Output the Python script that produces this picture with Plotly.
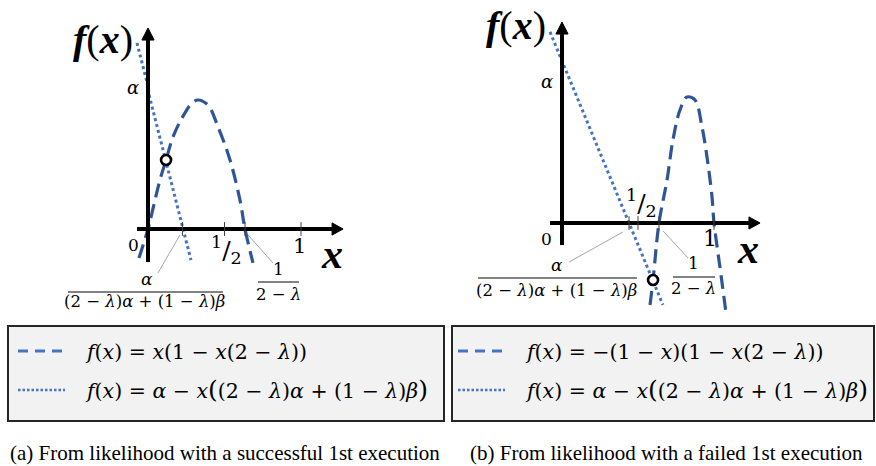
import plotly.graph_objects as go

W, H = 876, 466
SERIF = "Liberation Serif"
MATH = "DejaVu Serif"
DARK_BLUE = "#2f5597"
MID_BLUE = "#4472c4"

# ---------------- panel (a): successful 1st execution ----------------
a_quad_x = [-0.059, 0.0, 0.026, 0.078, 0.118, 0.163, 0.222, 0.288, 0.327,
            0.392, 0.458, 0.536, 0.601, 0.634, 0.686]
a_quad_y = [-0.190, 0.0, 0.105, 0.320, 0.451, 0.601, 0.725, 0.824, 0.843,
            0.810, 0.667, 0.451, 0.190, 0.0, -0.222]
a_line_x = [-0.072, -0.007, None, 0.007, 0.281]
a_line_y = [1.216, 0.961, None, 0.876, -0.203]
a_cross_x = [0.118]
a_cross_y = [0.451]
a_ticks = [0.225, 0.5, 0.634, 1.0]   # α/((2-λ)α+(1-λ)β), 1/2, 1/(2-λ), 1

# ---------------- panel (b): failed 1st execution ----------------
b_quad_x = [0.579, 0.599, 0.638, 0.691, 0.730, 0.776, 0.822, 0.875, 0.921,
            0.954, 0.987, 1.0, 1.039, 1.079]
b_quad_y = [-0.539, -0.375, 0.0, 0.283, 0.546, 0.743, 0.829, 0.809, 0.632,
            0.434, 0.171, 0.0, -0.289, -0.592]
b_line_x = [-0.079, 0.664]
b_line_y = [1.257, -0.539]
b_cross_x = [0.599]
b_cross_y = [-0.375]
b_ticks = [0.441, 0.5, 0.638, 1.0]

BIGL = "<span style='font-size:25px'>(</span>"
BIGR = "<span style='font-size:25px'>)</span>"
legend_a = ["<i>f</i>(<i>x</i>) = <i>x</i>(1 − <i>x</i>(2 − <i>λ</i>))",
            "<i>f</i>(<i>x</i>) = <i>α</i> − <i>x</i>" + BIGL + "(2 − <i>λ</i>)<i>α</i> + (1 − <i>λ</i>)<i>β</i>" + BIGR]
legend_b = ["<i>f</i>(<i>x</i>) = −(1 − <i>x</i>)(1 − <i>x</i>(2 − <i>λ</i>))",
            "<i>f</i>(<i>x</i>) = <i>α</i> − <i>x</i>" + BIGL + "(2 − <i>λ</i>)<i>α</i> + (1 − <i>λ</i>)<i>β</i>" + BIGR]
captions = ["(a) From likelihood with a successful 1st execution",
            "(b) From likelihood with a failed 1st execution"]

# subplot geometry (pixel frame of each panel, origin and unit length)
PLOT_TOP, PLOT_BOTTOM = 0, 320
panels = {
    "a": dict(x0=0, x1=440, ox=148, oy=229, unit=153),
    "b": dict(x0=444, x1=876, ox=562, oy=223, unit=152),
}


def ranges(p):
    xr = [(p["x0"] - p["ox"]) / p["unit"], (p["x1"] - p["ox"]) / p["unit"]]
    yr = [(p["oy"] - PLOT_BOTTOM) / p["unit"], (p["oy"] - PLOT_TOP) / p["unit"]]
    return xr, yr


fig = go.Figure()

for xs, ys, ax in [(a_quad_x, a_quad_y, "a"), (b_quad_x, b_quad_y, "b")]:
    fig.add_trace(go.Scatter(
        x=xs, y=ys, mode="lines", line=dict(color=DARK_BLUE, width=3.2, dash="14px,7px",
                                            shape="spline", smoothing=1.0),
        xaxis="x" if ax == "a" else "x2", yaxis="y" if ax == "a" else "y2",
        showlegend=False, hoverinfo="skip"))
for xs, ys, ax in [(a_line_x, a_line_y, "a"), (b_line_x, b_line_y, "b")]:
    fig.add_trace(go.Scatter(
        x=xs, y=ys, mode="lines", line=dict(color=MID_BLUE, width=3, dash="3px,3px"),
        connectgaps=False,
        xaxis="x" if ax == "a" else "x2", yaxis="y" if ax == "a" else "y2",
        showlegend=False, hoverinfo="skip"))
for xs, ys, ax in [(a_cross_x, a_cross_y, "a"), (b_cross_x, b_cross_y, "b")]:
    fig.add_trace(go.Scatter(
        x=xs, y=ys, mode="markers",
        marker=dict(symbol="circle", size=10, color="white", line=dict(color="black", width=2.6)),
        xaxis="x" if ax == "a" else "x2", yaxis="y" if ax == "a" else "y2",
        showlegend=False, hoverinfo="skip"))

shapes = []
annotations = []


def axes_arrows(xr, yr, x_lo, x_base, x_tip, y_lo, y_base, y_tip, hw):
    shapes.append(dict(type="line", xref=xr, yref=yr, x0=x_lo, x1=x_base, y0=0, y1=0,
                       line=dict(color="black", width=4)))
    shapes.append(dict(type="path", xref=xr, yref=yr,
                       path=f"M {x_tip} 0 L {x_base} {hw} L {x_base} {-hw} Z",
                       fillcolor="black", line=dict(color="black", width=1)))
    shapes.append(dict(type="line", xref=xr, yref=yr, x0=0, x1=0, y0=y_lo, y1=y_base,
                       line=dict(color="black", width=4)))
    shapes.append(dict(type="path", xref=xr, yref=yr,
                       path=f"M 0 {y_tip} L {hw} {y_base} L {-hw} {y_base} Z",
                       fillcolor="black", line=dict(color="black", width=1)))


axes_arrows("x", "y", -0.072, 1.203, 1.275, -0.216, 1.235, 1.314, 0.040)
axes_arrows("x2", "y2", -0.079, 1.23, 1.303, -0.145, 1.243, 1.322, 0.040)

for xr, yr, ticks in [("x", "y", a_ticks), ("x2", "y2", b_ticks)]:
    for t in ticks:
        shapes.append(dict(type="line", xref=xr, yref=yr, x0=t, x1=t, y0=-0.045, y1=0.045,
                           line=dict(color="#404040", width=1)))


def txt(xr, yr, x, y, text, size, family=MATH):
    annotations.append(dict(xref=xr, yref=yr, x=x, y=y, text=text, showarrow=False,
                            xanchor="center", yanchor="middle",
                            font=dict(family=family, size=size, color="black")))


def seg(xr, yr, x0, y0, x1, y1, color="#a6a6a6", width=1):
    shapes.append(dict(type="line", xref=xr, yref=yr, x0=x0, y0=y0, x1=x1, y1=y1,
                       line=dict(color=color, width=width)))


FX = "<b><i>f</i></b>(<b><i>x</i></b>)"
HALF = "<sup>1</sup>/<sub>2</sub>"
DEN_A = "(2 − <i>λ</i>)<i>α</i> + (1 − <i>λ</i>)<i>β</i>"
DEN_B = "2 − <i>λ</i>"

# panel (a) labels
txt("x", "y", -0.294, 1.24, FX, 40, SERIF)
txt("x", "y", -0.098, 0.922, "<i>α</i>", 18)
txt("x", "y", -0.098, -0.105, "0", 17)
txt("x", "y", 0.51, -0.137, HALF, 25)
txt("x", "y", 0.993, -0.111, "1", 21)
txt("x", "y", 1.203, -0.163, "<b><i>x</i></b>", 42, SERIF)
txt("x", "y", -0.007, -0.327, "<i>α</i>", 17)
seg("x", "y", -0.523, -0.412, 0.490, -0.412, "#595959", 1.5)
txt("x", "y", -0.02, -0.477, DEN_A, 16.5)
txt("x", "y", 0.85, -0.261, "1", 17)
seg("x", "y", 0.719, -0.346, 0.987, -0.346, "#595959", 1.5)
txt("x", "y", 0.85, -0.431, DEN_B, 16.5)
seg("x", "y", a_ticks[0] - 0.016, -0.039, 0.065, -0.288)
seg("x", "y", a_ticks[2] + 0.020, -0.039, 0.817, -0.222)

# panel (b) labels
txt("x2", "y2", -0.303, 1.30, FX, 40, SERIF)
txt("x2", "y2", -0.099, 0.928, "<i>α</i>", 18)
txt("x2", "y2", -0.105, -0.105, "0", 17)
txt("x2", "y2", 0.52, 0.132, HALF, 25)
txt("x2", "y2", 0.974, -0.105, "1", 22)
txt("x2", "y2", 1.224, -0.171, "<b><i>x</i></b>", 42, SERIF)
txt("x2", "y2", -0.033, -0.276, "<i>α</i>", 17)
seg("x2", "y2", -0.553, -0.362, 0.493, -0.362, "#595959", 1.5)
txt("x2", "y2", -0.033, -0.441, DEN_A, 16.5)
txt("x2", "y2", 0.868, -0.263, "1", 17)
seg("x2", "y2", 0.730, -0.355, 1.007, -0.355, "#595959", 1.5)
txt("x2", "y2", 0.868, -0.434, DEN_B, 16.5)
seg("x2", "y2", b_ticks[0] - 0.040, -0.059, 0.046, -0.257)
seg("x2", "y2", b_ticks[2] + 0.028, -0.053, 0.829, -0.230)


# legend boxes, drawn in page pixels
def px(x):
    return x / W


def py(y):
    return 1 - y / H


for (bx0, bx1), samp, lines in [((8, 444), (18, 65), legend_a), ((452, 874), (458, 505), legend_b)]:
    shapes.append(dict(type="rect", xref="paper", yref="paper", x0=px(bx0), x1=px(bx1),
                       y0=py(421), y1=py(326), fillcolor="#f2f2f2",
                       line=dict(color="#262626", width=2), layer="below"))
    shapes.append(dict(type="line", xref="paper", yref="paper", x0=px(samp[0]), x1=px(samp[1]),
                       y0=py(351), y1=py(351), line=dict(color=MID_BLUE, width=3, dash="10px,7px")))
    shapes.append(dict(type="line", xref="paper", yref="paper", x0=px(samp[0]), x1=px(samp[1]),
                       y0=py(390), y1=py(390), line=dict(color=MID_BLUE, width=2.5, dash="2.5px,2px")))
    for i, line in enumerate(lines):
        annotations.append(dict(xref="paper", yref="paper", x=px(samp[1] + 18), y=py(352 + 37 * i),
                                text=line, showarrow=False, xanchor="left", yanchor="middle",
                                font=dict(family=MATH, size=20.5, color="black")))

for cx, cap in zip([8, 468], captions):
    annotations.append(dict(xref="paper", yref="paper", x=px(cx), y=py(453), text=cap,
                            showarrow=False, xanchor="left", yanchor="middle",
                            font=dict(family=SERIF, size=21, color="black")))

xa, ya = ranges(panels["a"])
xb, yb = ranges(panels["b"])
hidden = dict(visible=False, showgrid=False, zeroline=False, fixedrange=True)
fig.update_layout(
    width=W, height=H, autosize=False,
    margin=dict(l=0, r=0, t=0, b=0),
    paper_bgcolor="white", plot_bgcolor="rgba(0,0,0,0)",
    xaxis=dict(domain=[px(panels["a"]["x0"]), px(panels["a"]["x1"])], range=xa, **hidden),
    yaxis=dict(domain=[py(PLOT_BOTTOM), py(PLOT_TOP)], range=ya, **hidden),
    xaxis2=dict(domain=[px(panels["b"]["x0"]), px(panels["b"]["x1"])], range=xb, **hidden),
    yaxis2=dict(domain=[py(PLOT_BOTTOM), py(PLOT_TOP)], range=yb, anchor="x2", **hidden),
    shapes=shapes, annotations=annotations, showlegend=False,
)

fig.write_html("out.html")
